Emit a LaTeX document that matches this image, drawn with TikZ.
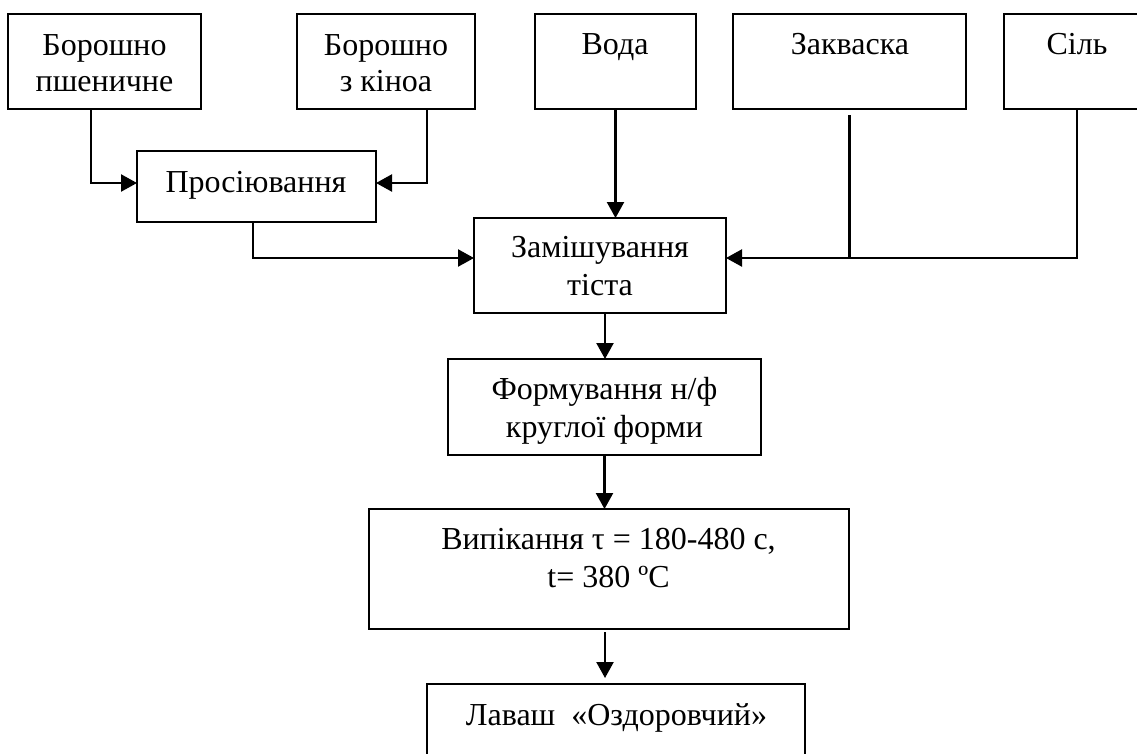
\documentclass[tikz,border=0pt]{standalone}
\usepackage{fontspec}
\setmainfont{Liberation Serif}
\usetikzlibrary{arrows.meta,calc}
\tikzset{
  box/.style={draw, line width=2.3pt, inner sep=0pt, outer sep=0pt, anchor=north west},
  txt/.style={font=\fontsize{32}{38}\selectfont, align=center, inner sep=0pt, anchor=base},
  conn/.style={line width=2.3pt},
  arr/.style={conn, -{Triangle[length=16pt,width=17pt]}}
}
\begin{document}
\begin{tikzpicture}[x=1pt,y=-1pt]
\clip (0,0) rectangle (1137,753);
\fill[white] (0,0) rectangle (1137,753);
% boxes
\node[box, minimum width=193pt, minimum height=95pt] (b1) at (8,14) {};
\node[box, minimum width=178pt, minimum height=95pt] (b2) at (297,14) {};
\node[box, minimum width=161pt, minimum height=95pt] (b3) at (535,14) {};
\node[box, minimum width=233pt, minimum height=95pt] (b4) at (733,14) {};
\node[box, minimum width=146pt, minimum height=95pt] (b5) at (1004,14) {};
\node[box, minimum width=239pt, minimum height=71pt] (p) at (137,151) {};
\node[box, minimum width=252pt, minimum height=95pt] (z) at (474,218) {};
\node[box, minimum width=313pt, minimum height=96pt] (f) at (448,359) {};
\node[box, minimum width=480pt, minimum height=120pt] (v) at (369,509) {};
\node[box, minimum width=378pt, minimum height=90pt] (l) at (427,684) {};
% texts (anchor base = baseline of the last line)
\node[txt, font=\fontsize{32}{36}\selectfont] (t1) at (104.5,91) {Борошно\\пшеничне};
\node[txt, font=\fontsize{32}{36}\selectfont] (t2) at (386,91) {Борошно\\з кіноа};
\node[txt] (t3) at (615,54) {Вода};
\node[txt] (t4) at (850,54) {Закваска};
\node[txt] (t5) at (1077,54) {Сіль};
\node[txt] (tp) at (256,192) {Просіювання};
\node[txt] (tz) at (600,295) {Замішування\\тіста};
\node[txt] (tf) at (604.5,437) {Формування н/ф\\круглої форми};
\node[txt] (tv) at (608.5,587) {Випікання τ = 180-480 с,\\t= 380 ºC};
\node[txt] (tl) at (616.5,725) {Лаваш~ «Оздоровчий»};
% connectors
\coordinate (pin1) at ([yshift=3.5pt]p.west);
\coordinate (pin2) at ([yshift=3.5pt]p.east);
\coordinate (zinw) at ([yshift=7.5pt]z.west);
\coordinate (zine) at ([yshift=7.5pt]z.east);
\draw[arr] ([xshift=-13.5pt]b1.south) |- (pin1);
\draw[arr] ([xshift=41pt]b2.south) |- (pin2);
\draw[arr] ([xshift=-3.5pt]p.south) |- (zinw);
\draw[arr] (b3.south) -- (b3.south |- z.north);
\draw[conn] ([yshift=-6pt]b4.south) -- (b4.south |- zine);
\draw[arr] (b5.south) |- (zine);
\draw[arr] ([xshift=5pt]z.south) -- ([xshift=5pt]z.south |- f.north);
\draw[arr] (f.south) -- (f.south |- v.north);
\coordinate (vs) at ([xshift=-4pt]v.south);
\draw[arr, shorten <=3pt, shorten >=6pt] (vs) -- (vs |- l.north);
\end{tikzpicture}
\end{document}
